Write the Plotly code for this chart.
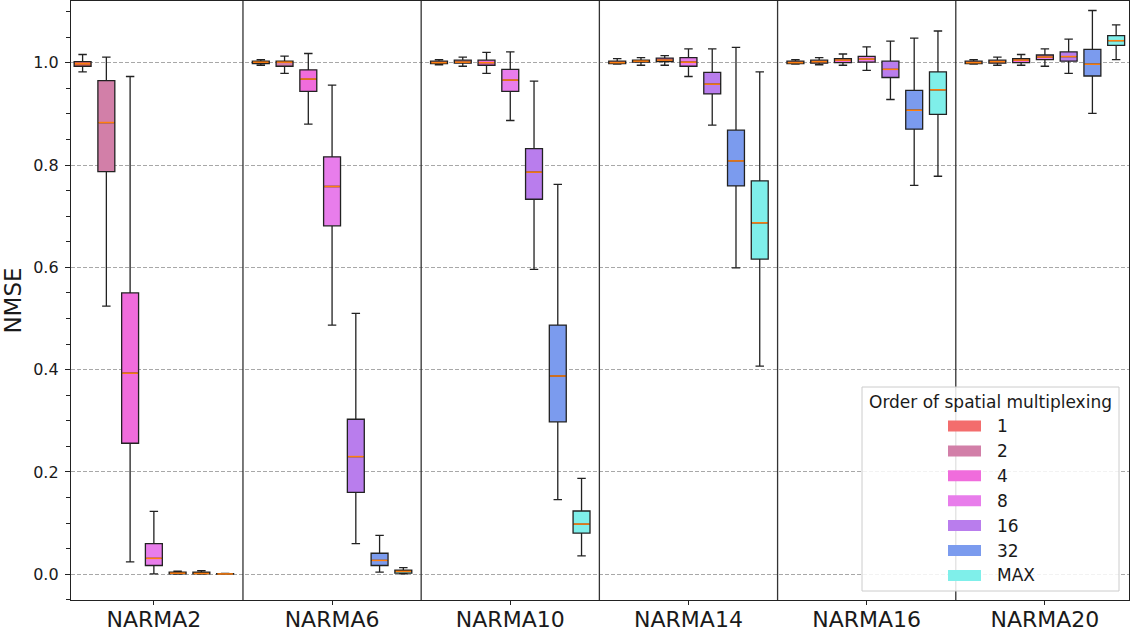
import plotly.graph_objects as go

tasks = ["NARMA2", "NARMA6", "NARMA10", "NARMA14", "NARMA16", "NARMA20"]
orders = ["1", "2", "4", "8", "16", "32", "MAX"]
colors = ["#F36D6D", "#D27FA8", "#F06CDC", "#E87DEB", "#B97DED", "#7B9BEE", "#7FEFEA"]

# rows: orders (1,2,4,8,16,32,MAX); columns: tasks
lower = [
    [0.982, 0.995, 0.996, 0.997, 0.997, 0.997],
    [0.524, 0.979, 0.993, 0.995, 0.996, 0.995],
    [0.024, 0.880, 0.979, 0.995, 0.995, 0.995],
    [0.0005, 0.487, 0.887, 0.973, 0.985, 0.993],
    [0.0, 0.060, 0.596, 0.878, 0.928, 0.979],
    [0.0, 0.004, 0.146, 0.599, 0.760, 0.901],
    [0.0, 0.0005, 0.036, 0.407, 0.778, 1.006],
]
q1 = [
    [0.993, 0.998, 0.998, 0.998, 0.998, 0.998],
    [0.787, 0.993, 0.999, 1.001, 0.999, 0.999],
    [0.256, 0.944, 0.995, 1.002, 1.000, 1.000],
    [0.017, 0.681, 0.944, 0.993, 1.001, 1.006],
    [0.0005, 0.160, 0.733, 0.939, 0.971, 1.003],
    [0.0005, 0.017, 0.298, 0.759, 0.870, 0.974],
    [0.0002, 0.002, 0.0805, 0.616, 0.899, 1.034],
]
median = [
    [0.998, 1.001, 1.000, 1.000, 1.000, 1.000],
    [0.883, 1.001, 1.001, 1.003, 1.002, 1.002],
    [0.393, 0.968, 1.000, 1.005, 1.005, 1.005],
    [0.031, 0.758, 0.966, 1.001, 1.007, 1.011],
    [0.002, 0.230, 0.786, 0.958, 0.987, 1.012],
    [0.0015, 0.027, 0.3875, 0.808, 0.907, 0.997],
    [0.0006, 0.0055, 0.098, 0.687, 0.947, 1.043],
]
q3 = [
    [1.002, 1.003, 1.003, 1.003, 1.003, 1.003],
    [0.965, 1.003, 1.005, 1.005, 1.005, 1.005],
    [0.550, 0.986, 1.005, 1.009, 1.008, 1.008],
    [0.060, 0.816, 0.987, 1.010, 1.0125, 1.015],
    [0.004, 0.303, 0.832, 0.981, 1.003, 1.021],
    [0.004, 0.041, 0.487, 0.868, 0.946, 1.026],
    [0.001, 0.008, 0.1236, 0.769, 0.982, 1.053],
]
upper = [
    [1.016, 1.006, 1.006, 1.008, 1.006, 1.006],
    [1.011, 1.013, 1.011, 1.010, 1.010, 1.011],
    [0.973, 1.018, 1.020, 1.014, 1.017, 1.016],
    [0.123, 0.956, 1.021, 1.027, 1.031, 1.027],
    [0.006, 0.510, 0.964, 1.027, 1.042, 1.046],
    [0.007, 0.076, 0.762, 1.030, 1.048, 1.102],
    [0.0015, 0.0127, 0.1875, 0.982, 1.062, 1.074],
]

W, H = 1138, 634
ML, MR, MT, MB = 71, 9, 1, 34
PW, PH = W - ML - MR, H - MT - MB
FONT = "DejaVu Sans"
INK = "#1a1a1a"

step = 0.1333
bw = 0.095

fig = go.Figure()
med_x, med_y = [], []
for i, o in enumerate(orders):
    xs = [t + (i - 3) * step for t in range(len(tasks))]
    fig.add_trace(go.Box(
        x=xs, q1=q1[i], median=median[i], q3=q3[i],
        lowerfence=lower[i], upperfence=upper[i],
        width=bw, fillcolor=colors[i],
        line=dict(color="#222222", width=1.3),
        whiskerwidth=0.5, boxpoints=False, showlegend=False,
        hoverinfo="skip", name=o,
    ))
    for x, m in zip(xs, median[i]):
        med_x += [x - bw / 2 + 0.004, x + bw / 2 - 0.004, None]
        med_y += [m, m, None]

fig.add_trace(go.Scatter(x=med_x, y=med_y, mode="lines",
                         line=dict(color="#FF7F0E", width=1.5),
                         showlegend=False, hoverinfo="skip"))

shapes = []
for k in range(len(tasks) - 1):
    shapes.append(dict(type="line", xref="x", yref="paper", x0=k + 0.5, x1=k + 0.5,
                       y0=0, y1=1, line=dict(color="#333333", width=1.3), layer="above"))

def px(x):
    return (x - ML) / PW

def py(y):
    return (MT + PH - y) / PH

# manual legend
shapes.append(dict(type="rect", xref="paper", yref="paper",
                   x0=px(862), x1=px(1119), y0=py(591), y1=py(387),
                   fillcolor="rgba(255,255,255,0.85)", line=dict(color="#CCCCCC", width=1),
                   layer="above"))
annotations = [dict(text="Order of spatial multiplexing", xref="paper", yref="paper",
                    x=px(990.5), y=py(402), xanchor="center", yanchor="middle",
                    showarrow=False, font=dict(family=FONT, size=17, color=INK))]
for i, o in enumerate(orders):
    cy = 426 + i * 24.9
    shapes.append(dict(type="rect", xref="paper", yref="paper",
                       x0=px(948), x1=px(981), y0=py(cy + 5.5), y1=py(cy - 5.5),
                       fillcolor=colors[i], line=dict(width=0), layer="above"))
    annotations.append(dict(text=o, xref="paper", yref="paper", x=px(995), y=py(cy),
                            xanchor="left", yanchor="middle", showarrow=False,
                            font=dict(family=FONT, size=17, color=INK)))

fig.update_layout(
    width=W, height=H,
    margin=dict(l=ML, r=MR, t=MT, b=MB, autoexpand=False),
    paper_bgcolor="white", plot_bgcolor="white",
    font=dict(family=FONT, color=INK),
    boxmode="overlay",
    shapes=shapes, annotations=annotations,
    showlegend=False,
    xaxis=dict(range=[-0.465, 5.472], tickvals=list(range(len(tasks))), ticktext=tasks,
               automargin=False, ticklabelstandoff=-5,
               showgrid=False, zeroline=False, showline=True, mirror=True,
               linecolor="#222222", linewidth=1.3, ticks="outside", ticklen=4,
               tickcolor="#222222", tickfont=dict(size=22, family=FONT, color=INK)),
    yaxis=dict(range=[-0.0504, 1.1206], tickvals=[0, 0.2, 0.4, 0.6, 0.8, 1.0],
               ticktext=["0.0", "0.2", "0.4", "0.6", "0.8", "1.0"],
               automargin=False,
               showgrid=True, gridcolor="#A8A8A8", griddash="4px,2px", gridwidth=0.8,
               zeroline=False, showline=True, mirror=True,
               linecolor="#222222", linewidth=1.3, ticks="outside", ticklen=5,
               tickcolor="#222222", tickfont=dict(size=16, family=FONT, color=INK),
               ticklabelstandoff=3,
               minor=dict(dtick=0.05, tick0=0, ticks="outside", ticklen=4,
                          tickcolor="#222222", showgrid=False),
               title=dict(text="NMSE", font=dict(size=23, family=FONT, color=INK),
                          standoff=8)),
)

fig.write_html("out.html")
